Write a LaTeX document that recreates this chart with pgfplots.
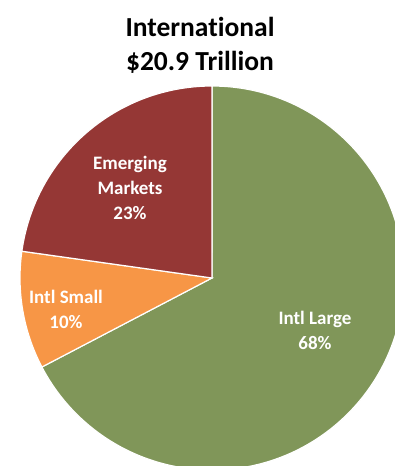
\documentclass[border=0pt]{standalone}
\usepackage{pgfplots}
\pgfplotsset{compat=1.18}
\usepackage{fontspec}
\setmainfont{Carlito}[Ligatures=NoCommon]

\definecolor{large}{HTML}{809659}
\definecolor{small}{HTML}{F79646}
\definecolor{emerg}{HTML}{953735}

% shares in percent (as labelled)
\def\vLarge{68}
\def\vSmall{10}
\def\vEmerg{23}
\pgfmathsetmacro\total{\vLarge+\vSmall+\vEmerg}
\pgfmathsetmacro\aA{90}
\pgfmathsetmacro\aB{\aA-\vLarge/\total*360}
\pgfmathsetmacro\aC{\aB-\vSmall/\total*360}
\pgfmathsetmacro\aD{\aC-\vEmerg/\total*360}

\begin{document}
\begin{tikzpicture}
\begin{axis}[
    name=ax,
    hide axis,
    scale only axis,
    width=395pt, height=466pt,
    xmin=0, xmax=395,
    ymin=0, ymax=466,
    clip=true,
]
\fill[large, draw=white, line width=1.2pt] (axis cs:212,188) -- ++(\aA:192pt)
    arc[start angle=\aA, end angle=\aB, radius=192pt] -- cycle;
\fill[small, draw=white, line width=1.2pt] (axis cs:212,188) -- ++(\aB:192pt)
    arc[start angle=\aB, end angle=\aC, radius=192pt] -- cycle;
\fill[emerg, draw=white, line width=1.2pt] (axis cs:212,188) -- ++(\aC:192pt)
    arc[start angle=\aC, end angle=\aD, radius=192pt] -- cycle;

\node[font=\bfseries\fontsize{27.5}{34}\selectfont, align=center]
    at (axis cs:200,421) {International\\\$20.9 Trillion};

\node[white, font=\bfseries\fontsize{19}{25}\selectfont, align=center]
    at (axis cs:130,278) {Emerging\\Markets\\23\%};
\node[white, font=\bfseries\fontsize{19}{25}\selectfont, align=center]
    at (axis cs:66,157) {Intl Small\\10\%};
\node[white, font=\bfseries\fontsize{19}{25}\selectfont, align=center]
    at (axis cs:315,136) {Intl Large\\68\%};
\end{axis}
\pgfresetboundingbox
\path[use as bounding box] (ax.south west) rectangle (ax.north east);
\end{tikzpicture}
\end{document}
